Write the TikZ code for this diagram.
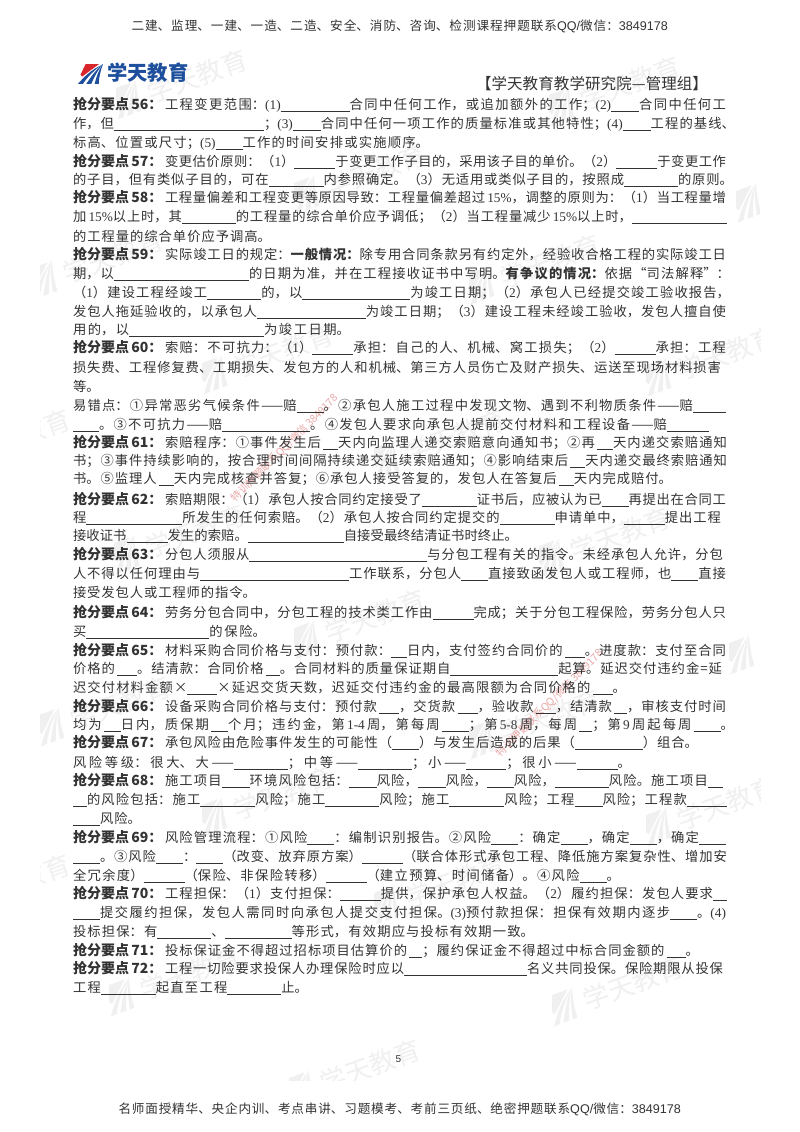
\documentclass[tikz,border=0pt]{standalone}
\usepackage{fontspec}
\setmainfont{Noto Sans CJK SC}
\newfontfamily\lat{Liberation Serif}
\newfontfamily\lsans{Liberation Sans}
\XeTeXlinebreaklocale "zh"
\XeTeXlinebreakskip=0pt plus 3pt minus 1pt
\definecolor{wm}{HTML}{F0F0F0}
\definecolor{body}{HTML}{333333}
\definecolor{logoblue}{HTML}{1D4F9C}
\definecolor{logored}{HTML}{D8262C}
\definecolor{pinkmark}{HTML}{EBA9A9}
\newcount\lnc
\newcommand\D[1]{{\lat #1}}
\newcommand\Bk[1]{\rule[-2pt]{#1pt}{0.6pt}}
\newcommand\Pn[1]{（{\lat #1}）}
\newcommand\Pq[1]{{\lat (#1)}}
\newcommand\Kp[1]{\makebox[92pt][l]{\fontsize{14}{16}\selectfont\bfseries 抢分要点\,#1：}}
\newcommand\Bd[1]{{\bfseries #1}}
% y x0 x1 text
\newcommand\LL[4]{%
  \global\advance\lnc by 1
  \pgfmathsetlengthmacro\lw{#3-#2}%
  \node[txt] (ln\the\lnc) at (#2,#1+4.8) {\parbox[t]{\lw}{\fontsize{13.3}{16}\selectfont\parfillskip=0pt\tolerance=10000\hbadness=10000\hfuzz=20pt\emergencystretch=0pt\noindent #4}};}
\newcommand\CC[4]{%
  \global\advance\lnc by 1
  \pgfmathsetlengthmacro\lw{#3-#2}%
  \node[txt] (ln\the\lnc) at (#2,#1+4.5) {\parbox[t]{\lw}{\fontsize{12.6}{16}\selectfont\parfillskip=0pt\tolerance=10000\hbadness=10000\hfuzz=20pt\noindent #4}};}
\newcommand\swoosh[2]{%
  \fill[#1] (-6,-15) -- (10,-15) -- (-10,4) -- (-12,1) -- cycle;
  \fill[#2] (15,-15) .. controls (0,-6) and (-8,5) .. (-15,15) -- (-9,15) .. controls (-4,5) and (5,-7) .. (15,-15) -- cycle;
  \fill[#2] (15,-15) .. controls (5,-5) and (0,6) .. (-5,15) -- (1,15) .. controls (4,6) and (8,-5) .. (15,-15) -- cycle;
  \fill[#2] (15,-15) .. controls (9,-5) and (7,6) .. (5,15) -- (10,15) .. controls (10,6) and (12,-5) .. (15,-15) -- cycle;}
\newcommand\WM[2]{%
  \begin{scope}[shift={(#1,#2)},rotate=20]
    \swoosh{wm}{wm}
    \node[wmtext] at (22,2) {学天教育};
  \end{scope}}
\newcommand\WMicon[2]{%
  \begin{scope}[shift={(#1,#2)},rotate=20]
    \swoosh{wm}{wm}
  \end{scope}}
\tikzset{
  txt/.style={anchor=base west,inner sep=0pt,outer sep=0pt,text=body},
  wmtext/.style={anchor=west,inner sep=0pt,text=wm,transform shape,font=\fontsize{26}{28}\selectfont},
  pinktext/.style={inner sep=0pt,text=pinkmark,rotate=45,font=\fontsize{10.5}{12}\selectfont}
}
\begin{document}
\begin{tikzpicture}[x=1pt,y=-1pt]
\useasboundingbox (0,0) rectangle (800,1132);
\fill[white] (0,0) rectangle (800,1132);
% watermarks
\begin{scope}
  \clip (40,0) rectangle (760,1080);
  \WM{127}{100}\WM{560}{107}
  \WM{305}{195}\WMicon{747}{203}
  \WM{43}{280}\WM{480}{285}
  \WM{213}{375}\WM{657}{377}
  \WM{-50}{460}\WM{385}{460}
  \WM{125}{555}\WM{550}{558}
  \WM{305}{640}\WMicon{740}{655}
  \WM{50}{727}\WM{480}{740}
  \WM{213}{817}\WM{657}{827}
  \WM{-50}{905}\WM{385}{905}
  \WM{120}{997}\WM{563}{1007}
  \WM{300}{1090}
\end{scope}
\node[pinktext] (pk1) at (285,448) {特训押题联系QQ/微信\,3849178};
\node[pinktext] (pk2) at (550,703) {特训押题联系QQ/微信\,3849178};
% logo
\begin{scope}[shift={(90.5,74)},xscale=0.83,yscale=0.65]
  \swoosh{logored}{logoblue}
\end{scope}
\node[anchor=base west,inner sep=0pt,text=logoblue,font=\fontsize{20.3}{22}\selectfont\bfseries] (logo) at (107,81) {学天教育};
% header & footer
\CC{26}{131.5}{668}{二建、监理、一建、一造、二造、安全、消防、咨询、检测课程押题联系{\lsans QQ/}微信：{\lsans 3849178}}
\CC{1109}{118.5}{681}{名师面授精华、央企内训、考点串讲、习题模考、考前三页纸、绝密押题联系{\lsans QQ/}微信：{\lsans 3849178}}
\node[txt,font=\fontsize{10}{12}\selectfont\lsans] (pg) at (395.5,1062) {5};
\global\advance\lnc by 1
\pgfmathsetlengthmacro\lw{232}
\node[txt] (title) at (476,89) {\parbox[t]{\lw}{\fontsize{15.5}{18}\selectfont\parfillskip=0pt\tolerance=10000\hbadness=10000\noindent 【学天教育教学研究院—管理组】}};
% body
\LL{105}{73}{726}{\Kp{56}工程变更范围：\Pq{1}\Bk{69}合同中任何工作，或追加额外的工作；\Pq{2}\Bk{28}合同中任何工}
\LL{124}{73}{735}{作，但\Bk{150}；\Pq{3}\Bk{28}合同中任何一项工作的质量标准或其他特性；\Pq{4}\Bk{28}工程的基线、}
\LL{143}{73}{429}{标高、位置或尺寸；\Pq{5}\Bk{27}工作的时间安排或实施顺序。}
\LL{162}{73}{726}{\Kp{57}变更估价原则：\Pn{1}\Bk{41}于变更工作子目的，采用该子目的单价。\Pn{2}\Bk{41}于变更工作}
\LL{180}{73}{733}{的子目，但有类似子目的，可在\Bk{55}内参照确定。\Pn{3}无适用或类似子目的，按照成\Bk{54}的原则。}
\LL{198}{73}{726}{\Kp{58}工程量偏差和工程变更等原因导致：工程量偏差超过\,\D{15\%}，调整的原则为：\Pn{1}当工程量增}
\LL{217}{73}{727}{加\,\D{15\%}以上时，其\Bk{54}的工程量的综合单价应予调低；\Pn{2}当工程量减少\,\D{15\%}以上时，\Bk{95}}
\LL{237}{73}{271}{的工程量的综合单价应予调高。}
\LL{255}{73}{726}{\Kp{59}实际竣工日的规定：\Bd{一般情况：}除专用合同条款另有约定外，经验收合格工程的实际竣工日}
\LL{274}{73}{730}{期，以\Bk{135}的日期为准，并在工程接收证书中写明。\Bd{有争议的情况：}依据“司法解释”：}
\LL{293}{73}{730}{\Pn{1}建设工程经竣工\Bk{54}的，以\Bk{108}为竣工日期；\Pn{2}承包人已经提交竣工验收报告，}
\LL{312}{73}{726}{发包人拖延验收的，以承包人\Bk{109}为竣工日期；\Pn{3}建设工程未经竣工验收，发包人擅自使}
\LL{330}{73}{350}{用的，以\Bk{135}为竣工日期。}
\LL{348}{73}{726}{\Kp{60}索赔：不可抗力：\Pn{1}\Bk{41}承担：自己的人、机械、窝工损失；\Pn{2}\Bk{41}承担：工程}
\LL{368}{73}{721}{损失费、工程修复费、工期损失、发包方的人和机械、第三方人员伤亡及财产损失、运送至现场材料损害}
\LL{387}{73}{101}{等。}
\LL{406}{73}{726}{易错点：①异常恶劣气候条件——赔\Bk{27}。②承包人施工过程中发现文物、遇到不利物质条件——赔\Bk{33}}
\LL{425}{73}{709}{\Bk{26}。③不可抗力——赔\Bk{88}。④发包人要求向承包人提前交付材料和工程设备——赔\Bk{42}}
\LL{443}{73}{727}{\Kp{61}索赔程序：①事件发生后\,\Bk{15}天内向监理人递交索赔意向通知书；②再\,\Bk{16}天内递交索赔通知}
\LL{461}{73}{727}{书；③事件持续影响的，按合理时间间隔持续递交延续索赔通知；④影响结束后\,\Bk{15}天内递交最终索赔通知}
\LL{479}{73}{672}{书。⑤监理人\,\Bk{15}天内完成核查并答复；⑥承包人接受答复的，发包人在答复后\,\Bk{15}天内完成赔付。}
\LL{500}{73}{726}{\Kp{62}索赔期限：\Pn{1}承包人按合同约定接受了\Bk{55}证书后，应被认为已\Bk{27}再提出在合同工}
\LL{518}{73}{721}{程\Bk{96}所发生的任何索赔。\Pn{2}承包人按合同约定提交的\Bk{55}申请单中，\Bk{41}提出工程}
\LL{536}{73}{518}{接收证书\Bk{41}发生的索赔。\Bk{96}自接受最终结清证书时终止。}
\LL{555}{73}{723}{\Kp{63}分包人须服从\Bk{178}与分包工程有关的指令。未经承包人允许，分包}
\LL{574}{73}{726}{人不得以任何理由与\Bk{149}工作联系，分包人\Bk{27}直接致函发包人或工程师，也\Bk{27}直接}
\LL{593}{73}{256}{接受发包人或工程师的指令。}
\LL{613}{73}{726}{\Kp{64}劳务分包合同中，分包工程的技术类工作由\Bk{41}完成；关于分包工程保险，劳务分包人只}
\LL{632}{73}{266}{买\Bk{123}的保险。}
\LL{651}{73}{726}{\Kp{65}材料采购合同价格与支付：预付款：\Bk{16}日内，支付签约合同价的\,\Bk{20}。进度款：支付至合同}
\LL{669}{73}{722}{价格的\,\Bk{20}。结清款：合同价格\,\Bk{14}。合同材料的质量保证期自\Bk{108}起算。延迟交付违约金=延}
\LL{688}{73}{626}{迟交付材料金额×\Bk{30}×延迟交货天数，迟延交付违约金的最高限额为合同价格的\,\Bk{20}。}
\LL{707}{73}{726}{\Kp{66}设备采购合同价格与支付：预付款\,\Bk{20}，交货款\,\Bk{20}，验收款\,\Bk{20}，结清款\,\Bk{13}，审核支付时间}
\LL{725}{73}{734}{均为\,\Bk{17}日内，质保期\,\Bk{17}个月；违约金，第\,\D{1-4}\,周，第每周\,\Bk{27}；第\,\D{5-8}\,周，每周\,\Bk{13}；第\,\D{9}\,周起每周\,\Bk{27}。}
\LL{743}{73}{698}{\Kp{67}承包风险由危险事件发生的可能性（\Bk{27}）与发生后造成的后果（\Bk{68}）组合。}
\LL{763}{73}{631}{风险等级：很大、大——\Bk{54}；中等——\Bk{54}；小——\Bk{40}；很小——\Bk{41}。}
\LL{781}{73}{723}{\Kp{68}施工项目\Bk{28}环境风险包括：\Bk{28}风险，\Bk{28}风险，\Bk{27}风险，\Bk{54}风险。施工项目\Bk{15}}
\LL{800}{73}{727}{\Bk{14}的风险包括：施工\Bk{55}风险；施工\Bk{54}风险；施工\Bk{55}风险；工程\Bk{28}风险；工程款\Bk{40}}
\LL{819}{73}{141}{\Bk{27}风险。}
\LL{838}{73}{726}{\Kp{69}风险管理流程：①风险\Bk{27}：编制识别报告。②风险\Bk{27}：确定\Bk{27}，确定\Bk{27}，确定\Bk{27}}
\LL{857}{73}{727}{\Bk{27}。③风险\Bk{27}：\Bk{27}（改变、放弃原方案）\Bk{41}（联合体形式承包工程、降低施方案复杂性、增加安}
\LL{876}{73}{620}{全冗余度）\Bk{41}（保险、非保险转移）\Bk{41}（建立预算、时间储备）。④风险\Bk{27}。}
\LL{894}{73}{727}{\Kp{70}工程担保：\Pn{1}支付担保：\Bk{41}提供，保护承包人权益。\Pn{2}履约担保：发包人要求\Bk{14}}
\LL{913}{73}{726}{\Bk{27}提交履约担保，发包人需同时向承包人提交支付担保。\Pq{3}预付款担保：担保有效期内逐步\Bk{27}。\Pq{4}}
\LL{932}{73}{534}{投标担保：有\Bk{54}、\Bk{67}等形式，有效期应与投标有效期一致。}
\LL{951}{73}{699}{\Kp{71}投标保证金不得超过招标项目估算价的\,\Bk{13}；履约保证金不得超过中标合同金额的\,\Bk{19}。}
\LL{969}{73}{723}{\Kp{72}工程一切险要求投保人办理保险时应以\Bk{123}名义共同投保。保险期限从投保}
\LL{988}{73}{308}{工程\Bk{55}起直至工程\Bk{54}止。}
\end{tikzpicture}
\end{document}
